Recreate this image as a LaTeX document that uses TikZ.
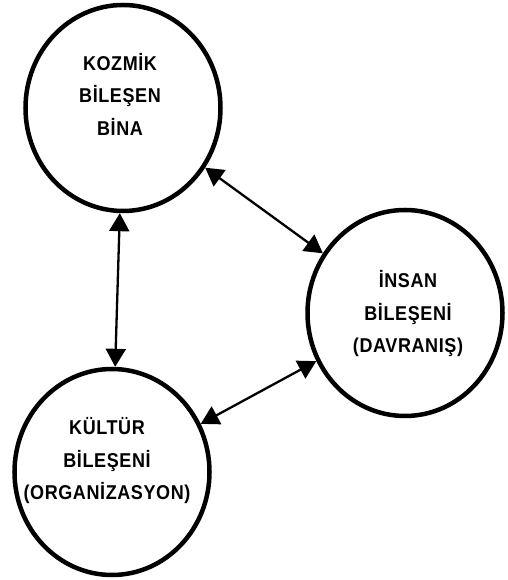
\documentclass[tikz,border=0pt]{standalone}
\usepackage{fontspec}
\newfontfamily\compfont[LetterSpace=3, FakeStretch=0.9]{Liberation Sans Bold}
\usepackage{tikz}
\usetikzlibrary{shapes.geometric, arrows.meta}
\tikzstyle{component} = [ellipse, minimum width=195pt, minimum height=206pt, line width=4.5pt, draw=black]
\tikzstyle{compname} = [align=center, font=\compfont\fontsize{20}{32.5}\selectfont]
\tikzstyle{arrow2} = [line width=2.3pt, <->, >={Triangle[length=18pt,width=20pt]}]

\begin{document}
\begin{tikzpicture}[x=1pt, y=1pt]
\useasboundingbox (0,0) rectangle (507,580);

\node (kozmik) [component] at (123,472) {};
\node (insan) [component] at (405,267) {};
\node (kultur) [component] at (112,108) {};

\node (kozmiktext) [compname] at (120,486) {KOZMİK\\BİLEŞEN\\BİNA};
\node (insantext) [compname] at (408,266) {İNSAN\\BİLEŞENİ\\(DAVRANIŞ)};
\node (kulturtext) [compname] at (107,119) {KÜLTÜR\\BİLEŞENİ\\(ORGANİZASYON)};

\draw [arrow2] (kozmik) -- (insan);
\draw [arrow2] (kozmik) -- (kultur);
\draw [arrow2] (kultur) -- (insan);
\end{tikzpicture}
\end{document}
